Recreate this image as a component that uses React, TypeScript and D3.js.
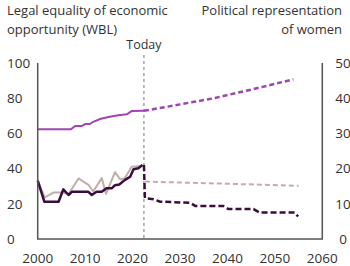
import React from "react";
import * as d3 from "d3";

// x ticks and axis ticks
const xTicks = [2000, 2010, 2020, 2030, 2040, 2050, 2060];
const leftTicks = [0, 20, 40, 60, 80, 100];
const rightTicks = [0, 10, 20, 30, 40, 50];
const todayYear = 2022.4;

// Legal equality (WBL), left axis
const wblYears = [2000, 2007, 2007.9, 2009.3, 2010, 2011, 2011.7, 2012.7, 2013.1, 2015.2, 2017, 2018.8, 2019.8, 2022.4];
const wblValues = [62.3, 62.3, 64.2, 64.2, 65.3, 65.3, 66.6, 67.6, 68.2, 69.5, 70.3, 70.9, 72.7, 72.9];
const wblProjYears = [2022.4, 2024.3, 2030, 2037, 2045.5, 2053.9];
const wblProjValues = [72.9, 73.7, 76.5, 79.9, 85.2, 90.7];

// Political representation, right axis
const repYears = [2000, 2001.4, 2004.4, 2005.4, 2006.5, 2007.2, 2010.7, 2011.4, 2012.4, 2013.5, 2014.5, 2015.6, 2016.3, 2017.2, 2018.4, 2019.5, 2020.2, 2021.2, 2022.1];
const repValues = [16.6, 10.6, 10.6, 14.1, 12.5, 13.4, 13.4, 12.5, 13.4, 13.4, 14.4, 14.4, 15.3, 15.5, 16.8, 17.7, 19.8, 20.1, 21];
const repProjYears = [2022.4, 2022.6, 2024.4, 2025.8, 2032.1, 2033.2, 2039.1, 2040.2, 2045.5, 2046.8, 2054.2, 2054.9];
const repProjValues = [21, 11.6, 11.3, 10.6, 10.3, 9.4, 9.4, 8.5, 8.5, 7.5, 7.5, 6.4];

const altYears = [2000, 2001.5, 2003.3, 2005.4, 2006.5, 2008.6, 2010.7, 2011.7, 2013.5, 2014.4, 2016.3, 2017.4, 2018.4, 2019.8, 2021.2, 2022.1];
const altValues = [16.6, 11.8, 13.2, 13.2, 12.8, 17.2, 15.4, 13.5, 17.3, 12.8, 19, 16.9, 17.3, 20.5, 20.7, 20.8];
const altProjYears = [2022.6, 2040, 2055];
const altProjValues = [16.3, 15.7, 15.1];

const W = 350;
const H = 266;
const font = "'Open Sans', sans-serif";
const purple = "#a044b0";
const dark = "#3b0d3e";
const taupe = "#c2aea8";

export default function App() {
  const x = d3.scaleLinear().domain([2000, 2060]).range([37.7, 322.3]);
  const yL = d3.scaleLinear().domain([0, 100]).range([239, 63]);
  const yR = d3.scaleLinear().domain([0, 50]).range([239, 63]);

  const mk = (ys: number[], vs: number[], sc: d3.ScaleLinear<number, number>) =>
    d3.line<number>().x((d) => x(d)).y((_, i) => sc(vs[i]))(ys) ?? "";

  return (
    <svg width={W} height={H} style={{ position: "absolute", left: 0, top: 0 }} fontFamily={font}>
      <text x={7} y={15} fontSize={13} fill="#333">Legal equality of economic</text>
      <text x={7} y={34} fontSize={13} fill="#333">opportunity (WBL)</text>
      <text x={342} y={15} fontSize={13} fill="#333" textAnchor="end">Political representation</text>
      <text x={342} y={34} fontSize={13} fill="#333" textAnchor="end">of women</text>
      <text x={x(todayYear)} y={49} fontSize={12.5} fill="#333" textAnchor="middle">Today</text>

      <line x1={x(todayYear)} x2={x(todayYear)} y1={55} y2={239} stroke="#777" strokeWidth={1} strokeDasharray="3,3" />

      {leftTicks.map((t) => (
        <text key={"l" + t} x={7} y={yL(t)} dy="0.35em" fontSize={13.5} fill="#333">{t}</text>
      ))}
      {rightTicks.map((t) => (
        <text key={"r" + t} x={343} y={yR(t)} dy="0.35em" fontSize={13.5} fill="#333" textAnchor="middle">{t}</text>
      ))}
      {xTicks.map((t) => (
        <text key={"x" + t} x={x(t)} y={263} fontSize={13.5} fill="#333" textAnchor="middle">{t}</text>
      ))}

      <path d={mk(altYears, altValues, yR)} fill="none" stroke={taupe} strokeWidth={2} strokeLinejoin="round" />
      <path d={mk(altProjYears, altProjValues, yR)} fill="none" stroke={taupe} strokeWidth={2} strokeDasharray="5,3" />
      <path d={mk(repYears, repValues, yR)} fill="none" stroke={dark} strokeWidth={2.5} strokeLinejoin="round" />
      <path d={mk(repProjYears, repProjValues, yR)} fill="none" stroke={dark} strokeWidth={2.5} strokeDasharray="6,3" />
      <path d={mk(wblYears, wblValues, yL)} fill="none" stroke={purple} strokeWidth={2} />
      <path d={mk(wblProjYears, wblProjValues, yL)} fill="none" stroke={purple} strokeWidth={2.5} strokeDasharray="5,3" />

      <path d={`M${x(2000)},${yL(100)}V${yL(0)}H${x(2060)}V${yR(50)}`} fill="none" stroke="#555" strokeWidth={1.5} />
    </svg>
  );
}
